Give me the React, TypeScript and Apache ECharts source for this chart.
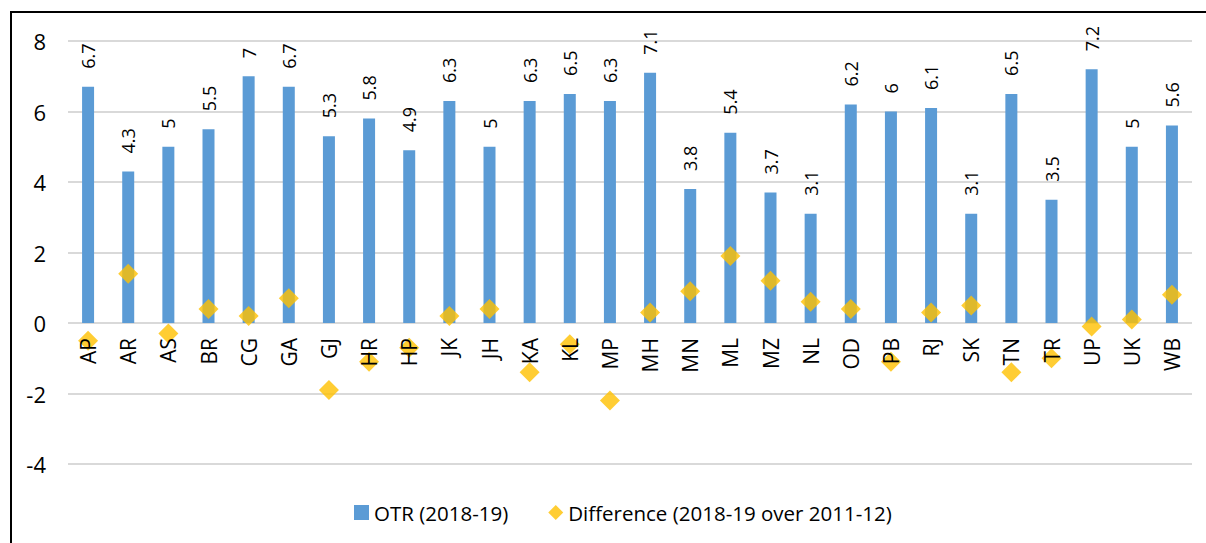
import React, { useEffect, useRef } from "react";
import * as echarts from "echarts";

const categories = ["AP","AR","AS","BR","CG","GA","GJ","HR","HP","JK","JH","KA","KL","MP","MH","MN","ML","MZ","NL","OD","PB","RJ","SK","TN","TR","UP","UK","WB"];
const otr = [6.7,4.3,5,5.5,7,6.7,5.3,5.8,4.9,6.3,5,6.3,6.5,6.3,7.1,3.8,5.4,3.7,3.1,6.2,6,6.1,3.1,6.5,3.5,7.2,5,5.6];
const diff = [-0.5,1.4,-0.3,0.4,0.2,0.7,-1.9,-1.1,-0.7,0.2,0.4,-1.4,-0.6,-2.2,0.3,0.9,1.9,1.2,0.6,0.4,-1.1,0.3,0.5,-1.4,-1.0,-0.1,0.1,0.8];
const seriesNames = ["OTR (2018-19)", "Difference (2018-19 over 2011-12)"];
const yMin = -4;
const yMax = 8;
const yStep = 2;

const FONT = "'Open Sans', 'Noto Sans', sans-serif";
const GRID_TOP = 41;
const GRID_BOTTOM = 79;
const HEIGHT = 543;

export default function App() {
  const ref = useRef<HTMLDivElement>(null);
  useEffect(() => {
    if (!ref.current) return;
    const chart = echarts.init(ref.current, undefined, { renderer: "svg" });
    const plotH = HEIGHT - GRID_TOP - GRID_BOTTOM;
    const zeroOffset = -((0 - yMin) / (yMax - yMin)) * plotH;
    chart.setOption({
      animation: false,
      backgroundColor: "#fff",
      textStyle: { fontFamily: FONT },
      graphic: [
        {
          type: "rect",
          shape: { x: 11, y: 12, width: 1300, height: 700 },
          style: { fill: "none", stroke: "#000", lineWidth: 2 },
          silent: true,
        },
      ],
      grid: { left: 68, right: 14, top: GRID_TOP, bottom: GRID_BOTTOM, containLabel: false },
      legend: {
        bottom: 15,
        left: 349,
        itemGap: 40,
        itemWidth: 15,
        itemHeight: 15,
        textStyle: { fontSize: 20.5, color: "#000", fontFamily: FONT },
        data: [
          { name: seriesNames[0], icon: "rect" },
          { name: seriesNames[1], icon: "diamond" },
        ],
      },
      xAxis: {
        type: "category",
        data: categories,
        offset: zeroOffset,
        z: 10,
        axisLine: { show: false, onZero: false },
        axisTick: { show: false },
        axisLabel: { rotate: 90, fontSize: 21, color: "#000", margin: 15, fontFamily: FONT },
      },
      yAxis: {
        type: "value",
        min: yMin,
        max: yMax,
        interval: yStep,
        axisLine: { show: false },
        axisTick: { show: false },
        splitLine: { lineStyle: { color: "#d9d9d9", width: 2 } },
        axisLabel: { fontSize: 22, color: "#000", margin: 22, fontFamily: FONT },
      },
      series: [
        {
          name: seriesNames[0],
          type: "bar",
          data: otr,
          barWidth: 12,
          itemStyle: { color: "#5b9bd5" },
          label: {
            show: true,
            position: "top",
            rotate: 90,
            align: "left",
            verticalAlign: "middle",
            distance: 18,
            fontSize: 18,
            color: "#000",
            fontFamily: FONT,
          },
        },
        {
          name: seriesNames[1],
          type: "scatter",
          data: diff,
          symbol: "diamond",
          symbolSize: 20,
          itemStyle: { color: "#ffc000" },
          z: 5,
        },
      ],
    });
    return () => chart.dispose();
  }, []);
  return (
    <div
      ref={ref}
      style={{ position: "fixed", left: 0, top: 0, width: 1206, height: 543 }}
    />
  );
}
